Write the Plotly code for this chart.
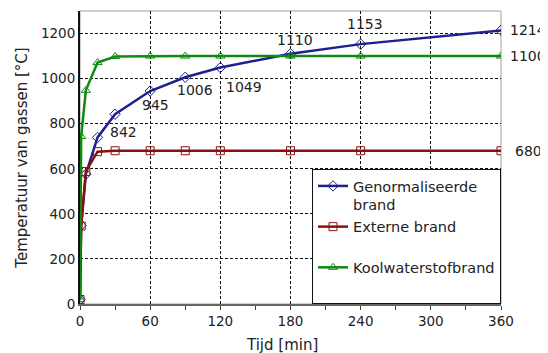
import plotly.graph_objects as go

# Data
t_iso = [0, 1, 5, 15, 30, 60, 90, 120, 180, 240, 360]
T_iso = [20, 349, 576, 739, 842, 945, 1006, 1049, 1110, 1153, 1214]

t_ext = [0, 1, 5, 15, 30, 60, 90, 120, 180, 240, 360]
T_ext = [20, 346, 588, 676, 680, 680, 680, 680, 680, 680, 680]

t_hc = [0, 1, 5, 15, 30, 60, 90, 120, 180, 240, 360]
T_hc = [20, 743, 948, 1071, 1098, 1100, 1100, 1100, 1100, 1100, 1100]

names = ["Genormaliseerde<br>brand", "Externe brand<br> ", "Koolwaterstofbrand<br> "]
x_ticks = [0, 60, 120, 180, 240, 300, 360]
y_ticks = [0, 200, 400, 600, 800, 1000, 1200]
x_title = "Tijd [min]"
y_title = "Temperatuur van gassen [°C]"

# labelled ISO points: (time, value, xshift, yshift)
iso_labels = [(30, 842, 8, -18), (60, 945, 5, -14), (90, 1006, 10, -13),
              (120, 1049, 24, -19), (180, 1110, 4, 14), (240, 1153, 4, 20)]
right_labels = [(360, 1214), (360, 1100), (360, 680)]

BLUE = "#1f1f8f"
RED = "#8b1010"
GREEN = "#108a10"
FONT = "DejaVu Sans"
TXT = "#222222"

fig = go.Figure()
fig.add_trace(go.Scatter(x=t_iso, y=T_iso, name=names[0], mode="lines+markers", legendgroup="a",
                         line=dict(color=BLUE, width=2.5),
                         marker=dict(symbol="diamond-open", size=8, color=BLUE, line=dict(width=1))))
fig.add_trace(go.Scatter(x=t_ext, y=T_ext, name=names[1], mode="lines+markers", legendgroup="b",
                         line=dict(color=RED, width=2.5),
                         marker=dict(symbol="square-open", size=8, color=RED, line=dict(width=1))))
fig.add_trace(go.Scatter(x=t_hc, y=T_hc, name=names[2], mode="lines+markers", legendgroup="c",
                         line=dict(color=GREEN, width=2.5),
                         marker=dict(symbol="triangle-up-open", size=8, color=GREEN, line=dict(width=1))))

for tx, v, xs, ys in iso_labels:
    fig.add_annotation(x=tx, y=v, text=str(v), showarrow=False, xshift=xs, yshift=ys,
                       font=dict(family=FONT, size=14, color=TXT))
for tx, v in right_labels:
    fig.add_annotation(x=tx, y=v, text=str(v), showarrow=False, xanchor="left",
                       xshift=7 if v != 680 else 12, yshift=0,
                       font=dict(family=FONT, size=14, color=TXT))

# x-axis title, placed low like the reference
fig.add_annotation(xref="paper", yref="paper", x=0.5, y=0, text=x_title, showarrow=False,
                   xanchor="center", yanchor="top", xshift=-9, yshift=-30,
                   font=dict(family=FONT, size=15, color=TXT))

# grey frame (top / right)
fig.add_shape(type="rect", xref="paper", yref="paper", x0=0, y0=0, x1=1, y1=1,
              line=dict(color="#a0a0a0", width=1), layer="below")

fig.update_layout(
    width=540, height=345,
    margin=dict(l=72, r=47, t=3, b=49),
    paper_bgcolor="white", plot_bgcolor="white",
    font=dict(family=FONT, size=13.5, color=TXT),
    showlegend=True,
    legend=dict(x=1, y=0, xanchor="right", yanchor="bottom",
                bgcolor="white", bordercolor="#111111", borderwidth=1,
                font=dict(family=FONT, size=14.5, color=TXT),
                valign="top", tracegroupgap=5, traceorder="normal",
                itemwidth=30),
    xaxis=dict(range=[0, 360], tickvals=x_ticks, ticktext=[str(v) for v in x_ticks],
               showgrid=True, gridcolor="#111111", griddash="3px,2px", gridwidth=1,
               showline=True, linecolor="#666666", linewidth=2,
               ticks="outside", ticklen=4, tickcolor="#444444",
               minor=dict(dtick=30, tick0=0, ticks="outside", ticklen=4, tickcolor="#444444", showgrid=False),
               zeroline=False, automargin=False,
               tickfont=dict(size=13.5)),
    yaxis=dict(range=[0, 1300], tickvals=y_ticks,
               showgrid=True, gridcolor="#111111", griddash="3px,2px", gridwidth=1,
               showline=True, linecolor="#111111", linewidth=2,
               ticks="", zeroline=False, automargin=False,
               title=dict(text=y_title, standoff=10, font=dict(size=15)),
               tickfont=dict(size=13.5)),
)

fig.write_html("out.html")
